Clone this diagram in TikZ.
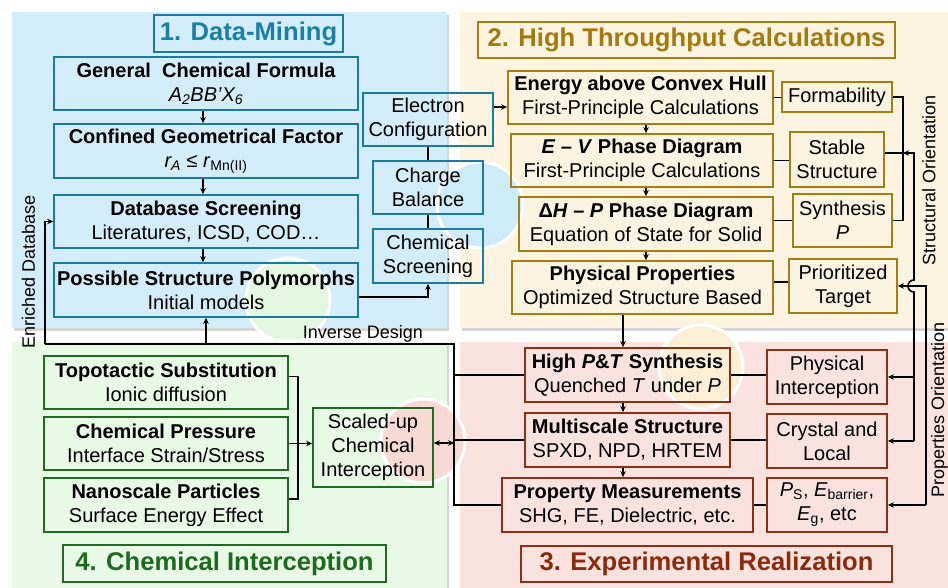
\documentclass[tikz,border=0pt]{standalone}
\usepackage{fontspec}
\setmainfont{Liberation Sans}
\usetikzlibrary{arrows.meta}
\definecolor{pa}{HTML}{D3EEFA}
\definecolor{pb}{HTML}{FCF3E0}
\definecolor{pc}{HTML}{FAE3DF}
\definecolor{pd}{HTML}{E8F9E6}
\definecolor{ca}{HTML}{1D7B9E}
\definecolor{cb}{HTML}{A37E12}
\definecolor{cc}{HTML}{8E3015}
\definecolor{cd}{HTML}{1F6B1F}
\definecolor{ta}{HTML}{1B80A3}
\definecolor{tb}{HTML}{A37A0E}
\definecolor{tc}{HTML}{8B2B0E}
\definecolor{td}{HTML}{1E6A1E}
\definecolor{qa}{HTML}{CDEBF8}
\definecolor{qb}{HTML}{FBF0D5}
\definecolor{qc}{HTML}{F7DAD3}
\definecolor{qd}{HTML}{E4F7E1}
\newcommand{\bxfont}{\fontsize{20}{24}\selectfont}
\newcommand{\ttfont}{\fontsize{25.6}{30}\selectfont\bfseries}
\newcommand{\lbfont}{\fontsize{18}{20}\selectfont}
\tikzset{
  bx/.style={draw=#1, line width=1.8pt, inner sep=0pt, align=center, font=\bxfont},
  ttl/.style={draw=#1, line width=2.2pt, inner sep=0pt, font=\ttfont},
  ln/.style={line width=1.6pt, black},
  arr/.style={line width=1.6pt, black, -{Stealth[length=6pt,width=5.5pt]}},
  darr/.style={line width=1.6pt, black, {Stealth[length=6pt,width=5.5pt]}-{Stealth[length=6pt,width=5.5pt]}},
  deco/.style={fill=#1, draw=white, line width=3pt},
  shad/.style={fill=black!16},
}
\begin{document}
\begin{tikzpicture}[x=1pt,y=-1pt]
\useasboundingbox (0,0) rectangle (948,588);
\clip (0,0) rectangle (948,588);
% panels
\fill[shad] (14,15) rectangle (449,331);
\fill[pa] (12,12) rectangle (447,328);
\fill[shad] (462,15) rectangle (960,331);
\fill[pb] (460,12) rectangle (960,328);
\fill[shad] (14,345) rectangle (449,600);
\fill[pd] (12,342) rectangle (447,600);
\fill[shad] (462,345) rectangle (960,600);
\fill[pc] (460,342) rectangle (960,600);
% decorative circles
\draw[deco=qa] (480,205) circle[radius=43];
\draw[deco=qd] (288,300) circle[radius=42];
\draw[deco=qb] (701,367) circle[radius=42];
\draw[deco=qc] (423,441) circle[radius=42];
% titles
\node[ttl=ca, text=ta, minimum width=189pt, minimum height=37pt] (t1) at (248.5,33.5) {1. Data-Mining};
\node[ttl=cb, text=tb, minimum width=417pt, minimum height=36pt] (t2) at (686.5,40) {2. High Throughput Calculations};
\node[ttl=cd, text=td, minimum width=323pt, minimum height=37pt] (t4) at (224.5,563.5) {4. Chemical Interception};
\node[ttl=cc, text=tc, minimum width=371pt, minimum height=36pt] (t3) at (706.5,564) {3. Experimental Realization};
% panel 1
\node[bx=ca, minimum width=304pt, minimum height=53pt] (gcf) at (206,83.5) {{\bfseries General\ \ Chemical Formula}\\\textit{A\textsubscript{2}BB’X\textsubscript{6}}};
\node[bx=ca, minimum width=304pt, minimum height=54pt] (cgf) at (206,151) {{\bfseries Confined Geometrical Factor}\\\textit{r\textsubscript{A}} ≤ \textit{r}\textsubscript{Mn(II)}};
\node[bx=ca, minimum width=304pt, minimum height=53pt] (dbs) at (206,221.5) {{\bfseries Database Screening}\\Literatures, ICSD, COD…};
\node[bx=ca, minimum width=304pt, minimum height=54pt] (psp) at (206,290) {{\bfseries Possible Structure Polymorphs}\\Initial models};
\node[bx=ca, minimum width=130pt, minimum height=53pt] (ec) at (428,119.5) {Electron\\Configuration};
\node[bx=ca, minimum width=110pt, minimum height=53pt] (cbl) at (428,187.5) {Charge\\Balance};
\node[bx=ca, minimum width=110pt, minimum height=54pt] (cs) at (428,256) {Chemical\\Screening};
% panel 2
\node[bx=cb, minimum width=265pt, minimum height=53pt] (each) at (640.5,97.5) {{\bfseries Energy above Convex Hull}\\First-Principle Calculations};
\node[bx=cb, minimum width=262pt, minimum height=53pt] (ev) at (642,160.5) {{\bfseries\itshape E\/ \textnormal{\bfseries –} V\/ \textnormal{\bfseries Phase Diagram}}\\First-Principle Calculations};
\node[bx=cb, minimum width=254pt, minimum height=54pt] (dh) at (646,224) {{\bfseries Δ\textit{H} – \textit{P} Phase Diagram}\\Equation of State for Solid};
\node[bx=cb, minimum width=261pt, minimum height=53pt] (pp) at (642.5,287.5) {{\bfseries Physical Properties}\\Optimized Structure Based};
\node[bx=cb, minimum width=110pt, minimum height=30pt] (form) at (837,97) {Formability};
\node[bx=cb, minimum width=94pt, minimum height=55pt] (stab) at (837,159.5) {Stable\\Structure};
\node[bx=cb, minimum width=99pt, minimum height=53pt] (syn) at (842.5,220.5) {Synthesis\\\textit{P}};
\node[bx=cb, minimum width=108pt, minimum height=54pt] (prio) at (843,286) {Prioritized\\Target};
% panel 3
\node[bx=cc, minimum width=205pt, minimum height=54pt] (hpt) at (627.5,375) {{\bfseries High \textit{P}\&\textit{T} Synthesis}\\Quenched \textit{T} under \textit{P}};
\node[bx=cc, minimum width=205pt, minimum height=54pt] (ms) at (627.5,440) {{\bfseries Multiscale Structure}\\SPXD, NPD, HRTEM};
\node[bx=cc, minimum width=251pt, minimum height=54pt] (pm) at (627.5,505) {{\bfseries Property Measurements}\\SHG, FE, Dielectric, etc.};
\node[bx=cc, minimum width=120pt, minimum height=54pt] (pi) at (827,377) {Physical\\Interception};
\node[bx=cc, minimum width=120pt, minimum height=54pt] (cl) at (827,441) {Crystal and\\Local};
\node[bx=cc, minimum width=120pt, minimum height=54pt] (ps) at (827,505) {\textit{P}\textsubscript{S}, \textit{E}\textsubscript{barrier},\\\textit{E}\textsubscript{g}, etc};
% panel 4
\node[bx=cd, minimum width=244pt, minimum height=53pt] (ts) at (166,382.5) {{\bfseries Topotactic Substitution}\\Ionic diffusion};
\node[bx=cd, minimum width=244pt, minimum height=53pt] (cp) at (166,443.5) {{\bfseries Chemical Pressure}\\Interface Strain/Stress};
\node[bx=cd, minimum width=244pt, minimum height=54pt] (np) at (166,505) {{\bfseries Nanoscale Particles}\\Surface Energy Effect};
\node[bx=cd, minimum width=120pt, minimum height=79pt] (sci) at (373,447.5) {Scaled-up\\Chemical\\Interception};
% labels
\node[font=\lbfont] (inv) at (363,334) {Inverse Design};
\node[font=\lbfont, rotate=90] (enr) at (28.5,272) {Enriched Database};
\node[font=\lbfont, rotate=90] (sor) at (929,180) {Structural Orientation};
\node[font=\lbfont, rotate=90] (por) at (939.5,410) {Properties Orientation};
% connectors panel 1
\coordinate (dxa) at (203,0);
\draw[arr] (dxa |- gcf.south) -- (dxa |- cgf.north);
\draw[arr] (dxa |- cgf.south) -- (dxa |- dbs.north);
\draw[arr] (dxa |- dbs.south) -- (dxa |- psp.north);
\draw[ln] (ec.south) -- (cbl.north);
\draw[ln] (cbl.south) -- (cs.north);
\coordinate (pspE) at ([yshift=-7pt]psp.east);
\draw[arr] (pspE) -| (cs.south);
\coordinate (ecy) at (500,107);
\draw[arr] (ec.east |- ecy) -- (each.west |- ecy);
% inverse design / enriched database
\coordinate (idl) at (45,344);
\coordinate (idr) at (454,344);
\draw[ln] (idl) -- (idr) |- (pm.west);
\draw[arr] (idl) |- (dbs.west);
\draw[arr] (psp.south |- idl) -- (psp.south);
\draw[ln] (idr |- hpt.west) -- (hpt.west);
\draw[ln] (idr |- ms.west) -- (ms.west);
\coordinate (sciE) at ([yshift=4.5pt]sci.east);
\draw[darr] (sciE) -- (idr |- sciE);
% panel 2 connectors
\coordinate (dxb) at (646,0);
\draw[arr] (dxb |- each.south) -- (dxb |- ev.north);
\draw[arr] (dxb |- ev.south) -- (dxb |- dh.north);
\draw[arr] (dxb |- dh.south) -- (dxb |- pp.north);
\draw[ln] (each.east) -- (each.east -| form.west);
\draw[ln] (ev.east) -- (ev.east -| stab.west);
\draw[ln] (dh.east |- syn.west) -- (syn.west);
\coordinate (prW) at ([yshift=4pt]prio.west);
\draw[ln] (pp.east |- prW) -- (prW);
\coordinate (sbx) at (903,153);
\draw[ln] (form.east) -| (sbx |- syn.east) -- (syn.east);
\draw[ln] (stab.east |- sbx) -- (sbx);
% orientation lines
\coordinate (ix) at (914,0);
\coordinate (ox) at (926,0);
\coordinate (hopb) at (914,292);
\draw[arr] (ix |- cl.east) -- (hopb) arc[start angle=90,end angle=270,radius=6] -- (ix |- sbx) -- (sbx);
\draw[arr] (ix |- pi.east) -- (pi.east);
\draw[arr] (ix |- cl.east) -- (cl.east);
\draw[arr] (ox |- ps.east) |- (prio.east);
\draw[arr] (ox |- ps.east) -- (ps.east);
% panel 3 connectors
\coordinate (dxc) at (623,0);
\draw[arr] (dxc |- pp.south) -- (dxc |- hpt.north);
\draw[arr] (dxc |- hpt.south) -- (dxc |- ms.north);
\draw[arr] (dxc |- ms.south) -- (dxc |- pm.north);
\draw[ln] (hpt.east) -- (hpt.east -| pi.west);
\draw[ln] (ms.east) -- (ms.east -| cl.west);
\draw[ln] (pm.east) -- (ps.west);
% panel 4 connectors
\coordinate (bxx) at (298,0);
\coordinate (tsE) at ([yshift=6pt]ts.east);
\coordinate (npE) at ([yshift=6pt]np.east);
\draw[ln] (tsE) -| (bxx |- npE) -- (npE);
\draw[arr] (cp.east) -- (cp.east -| sci.west);
\end{tikzpicture}
\end{document}
